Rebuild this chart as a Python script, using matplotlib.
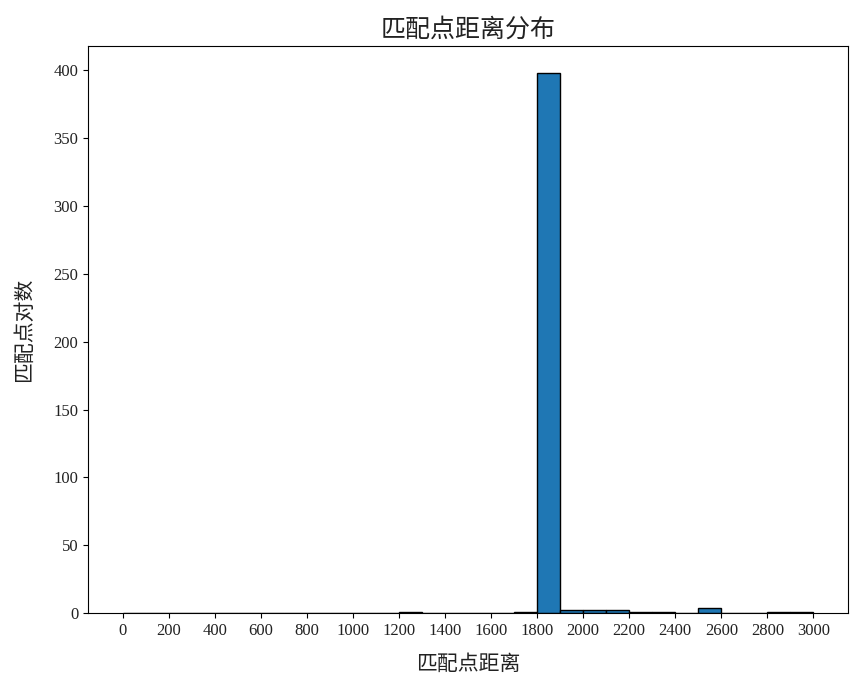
import numpy as np
import matplotlib
matplotlib.use("Agg")
import matplotlib.pyplot as plt

# ===== dados =====
bin_edges = np.arange(0, 3001, 100)
counts = [0, 0, 0, 0, 0, 0, 0, 0, 0, 0, 0, 0,
          1, 0, 0, 0, 0, 1, 398, 2, 2, 2, 1, 1,
          0, 4, 0, 0, 1, 1]
xtick_vals = np.arange(0, 3001, 200)

titulo = "匹配点距离分布"
rotulo_x = "匹配点距离"
rotulo_y = "匹配点对数"
# ==================================

plt.rcParams['font.family'] = ['Liberation Serif', 'Noto Sans CJK SC']
cjk = ['Noto Sans CJK SC', 'DejaVu Sans']

fig = plt.figure(figsize=(8.51, 6.79), dpi=100)
ax = fig.add_axes([0.1034, 0.0972, 0.8931, 0.8348])

ax.hist(bin_edges[:-1], bins=bin_edges, weights=counts,
        color='#1f77b4', edgecolor='black', linewidth=1.0)

ax.set_xticks(xtick_vals)
ax.tick_params(axis='both', labelsize=12, labelcolor='#222222')
ax.set_title(titulo, family=cjk, fontsize=18, fontweight='light', pad=7, color='#222222')
ax.set_xlabel(rotulo_x, family=cjk, fontsize=15, fontweight='light', labelpad=10, color='#222222')
ax.set_ylabel(rotulo_y, family=cjk, fontsize=15, fontweight='light', labelpad=13, color='#222222')

fig.savefig("out.png", dpi=100)
